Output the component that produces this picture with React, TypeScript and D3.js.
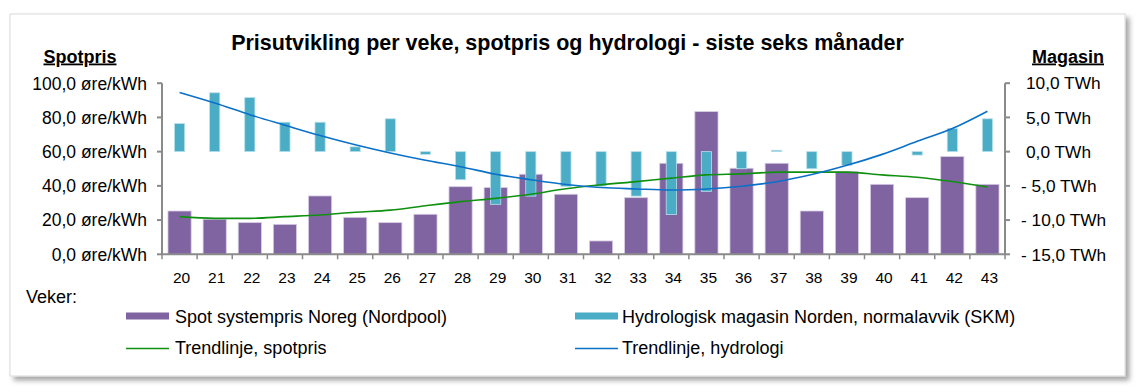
import React, { useEffect } from "react";
import * as d3 from "d3";

const weeks = ["20","21","22","23","24","25","26","27","28","29","30","31","32","33","34","35","36","37","38","39","40","41","42","43"];
const spotPrice = [25.3,20.5,18.5,17.5,34.1,21.6,18.5,23.4,39.5,39.0,46.8,35.1,7.8,33.1,53.2,83.4,50.3,53.2,25.3,48.3,40.9,33.1,57.1,40.9];
const hydroDeviation = [4.1,8.6,7.9,4.3,4.3,0.7,4.8,-0.4,-4.1,-7.7,-6.5,-5.1,-5.0,-6.5,-9.2,-5.8,-2.5,0.2,-2.5,-2.0,0,-0.5,3.4,4.8];
const spotTrend = [22.0,21.0,21.0,22.0,23.0,24.6,25.8,28.4,30.8,32.7,35.1,38.3,40.6,42.5,44.5,46.4,47.0,48.0,48.0,48.0,46.4,45.0,42.5,39.3];
const hydroTrend = [8.64,7.1,5.4,3.86,2.35,1.0,-0.2,-1.26,-2.2,-3.3,-4.1,-4.8,-5.25,-5.45,-5.6,-5.45,-5.06,-4.4,-3.35,-2.0,-0.4,1.5,3.37,5.9];
const leftTicks = [0,20,40,60,80,100];
const rightTicks = [-15,-10,-5,0,5,10];
const leftTickLabels = ["0,0 øre/kWh","20,0 øre/kWh","40,0 øre/kWh","60,0 øre/kWh","80,0 øre/kWh","100,0 øre/kWh"];
const rightTickLabels = ["- 15,0 TWh","- 10,0 TWh","- 5,0 TWh","0,0 TWh","5,0 TWh","10,0 TWh"];

const FONT = "'Liberation Sans', Arial, sans-serif";
const PURPLE = "#8064a2";
const TEAL = "#4bacc6";
const GREEN = "#109010";
const BLUE = "#0a70c8";
const AXIS = "#8a8a8a";

export default function App() {
  useEffect(() => {
    document.body.style.margin = "0";
  }, []);

  const W = 1139, H = 392;
  const x0 = 162, x1 = 1005, yTop = 83.2, yBot = 254.3;
  const x = d3.scaleBand<string>().domain(weeks).range([x0, x1]).padding(0);
  const yL = d3.scaleLinear().domain([0, 100]).range([yBot, yTop]);
  const yR = d3.scaleLinear().domain([-15, 10]).range([yBot, yTop]);
  const bw = x.bandwidth();
  const cx = (w: string) => (x(w) as number) + bw / 2;

  const spotLine = d3.line<number>().x((_, i) => cx(weeks[i])).y((d) => yL(d)).curve(d3.curveMonotoneX);
  const hydroLine = d3.line<number>().x((_, i) => cx(weeks[i])).y((d) => yR(d)).curve(d3.curveMonotoneX);

  const spotW = bw * 0.66;
  const hydroW = bw * 0.29;

  return (
    <svg width={W} height={H} style={{ display: "block", background: "#fff" }} fontFamily={FONT}>
      <defs>
        <filter id="sh" x="-5%" y="-5%" width="110%" height="115%">
          <feDropShadow dx="4" dy="4" stdDeviation="2.5" floodColor="#000" floodOpacity="0.35" />
        </filter>
      </defs>
      <rect x={10} y={14} width={1115} height={362} fill="#fff" stroke="#d9d9d9" strokeWidth={1} filter="url(#sh)" />

      <text x={567.5} y={50} textAnchor="middle" fontSize={21.5} fontWeight="bold" fill="#000">
        Prisutvikling per veke, spotpris og hydrologi - siste seks månader
      </text>
      <text x={80} y={62.5} textAnchor="middle" fontSize={18} fontWeight="bold" textDecoration="underline" fill="#000">Spotpris</text>
      <text x={1068} y={62.5} textAnchor="middle" fontSize={18} fontWeight="bold" textDecoration="underline" fill="#000">Magasin</text>

      {/* spot bars */}
      {weeks.map((w, i) => (
        <rect key={"s" + w} x={cx(w) - spotW / 2} y={yL(spotPrice[i])} width={spotW} height={yL(0) - yL(spotPrice[i])}
          fill={PURPLE} stroke="#d6cde3" strokeWidth={0.8} />
      ))}
      {/* hydro bars */}
      {weeks.map((w, i) => {
        const v = hydroDeviation[i];
        if (v === 0) return null;
        const ya = yR(Math.max(v, 0)), yb = yR(Math.min(v, 0));
        return <rect key={"h" + w} x={cx(w) - hydroW / 2} y={ya} width={hydroW} height={yb - ya}
          fill={TEAL} stroke="#b7e0ea" strokeWidth={0.8} />;
      })}

      <path d={spotLine(spotTrend) || ""} fill="none" stroke={GREEN} strokeWidth={1.6} />
      <path d={hydroLine(hydroTrend) || ""} fill="none" stroke={BLUE} strokeWidth={1.6} />

      {/* axes */}
      <line x1={x0} x2={x0} y1={yTop} y2={yBot} stroke={AXIS} strokeWidth={2} />
      <line x1={x1} x2={x1} y1={yTop} y2={yBot} stroke={AXIS} strokeWidth={2} />
      <line x1={x0} x2={x1} y1={yBot} y2={yBot} stroke={AXIS} strokeWidth={2} />
      {leftTicks.map((t, i) => (
        <g key={"lt" + t}>
          <line x1={x0 - 5} x2={x0} y1={yL(t)} y2={yL(t)} stroke={AXIS} strokeWidth={2} />
          <text x={147} y={yL(t)} dy="0.36em" textAnchor="end" fontSize={17.5} fill="#000">{leftTickLabels[i]}</text>
        </g>
      ))}
      {rightTicks.map((t, i) => (
        <g key={"rt" + t}>
          <line x1={x1} x2={x1 + 5} y1={yR(t)} y2={yR(t)} stroke={AXIS} strokeWidth={2} />
          <text x={t < 0 ? 1021 : 1026} y={yR(t)} dy="0.36em" textAnchor="start" fontSize={17.3} fill="#000">{rightTickLabels[i]}</text>
        </g>
      ))}
      {weeks.map((w) => (
        <line key={"bt" + w} x1={x(w) as number} x2={x(w) as number} y1={yBot} y2={yBot + 5} stroke={AXIS} strokeWidth={1.5} />
      ))}
      <line x1={x1} x2={x1} y1={yBot} y2={yBot + 5} stroke={AXIS} strokeWidth={1.5} />
      {weeks.map((w) => (
        <text key={"bl" + w} x={cx(w) + 2} y={282.5} textAnchor="middle" fontSize={15.5} fill="#000">{w}</text>
      ))}

      <text x={26} y={302.5} fontSize={18} fill="#000">Veker:</text>

      {/* legend */}
      <rect x={126} y={312.5} width={43} height={7} fill={PURPLE} />
      <text x={175} y={322.5} fontSize={18} fill="#000">Spot systempris Noreg (Nordpool)</text>
      <line x1={126} x2={169} y1={348.5} y2={348.5} stroke={GREEN} strokeWidth={1.5} />
      <text x={175} y={354} fontSize={18} fill="#000">Trendlinje, spotpris</text>

      <rect x={575} y={312.5} width={43} height={7} fill={TEAL} />
      <text x={622} y={322.5} fontSize={18} fill="#000">Hydrologisk magasin Norden, normalavvik (SKM)</text>
      <line x1={575} x2={618} y1={348.5} y2={348.5} stroke={BLUE} strokeWidth={1.5} />
      <text x={622} y={354} fontSize={18} fill="#000">Trendlinje, hydrologi</text>
    </svg>
  );
}
